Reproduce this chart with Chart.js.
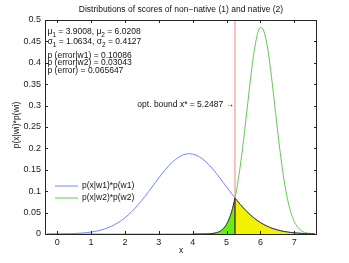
<!DOCTYPE html>
<html>
<head>
<meta charset="utf-8">
<script src="https://cdn.jsdelivr.net/npm/chart.js@4/dist/chart.umd.min.js"></script>
<style>
html,body{margin:0;padding:0;background:#fff;}
canvas{display:block;}
</style>
</head>
<body>
<canvas id="c" width="349" height="263"></canvas>
<script>
// ---- data ----
const xs = [-0.3,-0.2,-0.1,
  0.0,0.1,0.2,0.3,0.4,0.5,0.6,0.7,0.8,0.9,
  1.0,1.1,1.2,1.3,1.4,1.5,1.6,1.7,1.8,1.9,
  2.0,2.1,2.2,2.3,2.4,2.5,2.6,2.7,2.8,2.9,
  3.0,3.1,3.2,3.3,3.4,3.5,3.6,3.7,3.8,3.9,
  4.0,4.1,4.2,4.3,4.4,4.5,4.6,4.7,4.8,4.9,
  5.0,5.1,5.2,5.3,5.4,5.5,5.6,5.7,5.8,5.9,
  6.0,6.1,6.2,6.3,6.4,6.5,6.6,6.7,6.8,6.9,
  7.0,7.1,7.2,7.3,7.4,7.5,7.6];
const nonNative = [0.0001,0.0001,0.0002,
  0.0002,0.0003,0.0004,0.0006,0.0008,0.0011,0.0015,0.0020,0.0027,0.0035,
  0.0045,0.0058,0.0075,0.0094,0.0118,0.0147,0.0181,0.0220,0.0267,0.0320,
  0.0380,0.0447,0.0522,0.0604,0.0693,0.0788,0.0888,0.0991,0.1098,0.1205,
  0.1310,0.1413,0.1510,0.1599,0.1679,0.1747,0.1802,0.1843,0.1867,0.1876,
  0.1868,0.1843,0.1803,0.1748,0.1680,0.1600,0.1511,0.1414,0.1312,0.1206,
  0.1099,0.0993,0.0889,0.0789,0.0694,0.0605,0.0523,0.0448,0.0381,0.0320,
  0.0267,0.0221,0.0181,0.0147,0.0119,0.0095,0.0075,0.0059,0.0046,0.0035,
  0.0027,0.0020,0.0015,0.0011,0.0008,0.0006,0.0004];
const native = [0,0,0,
  0,0,0,0,0,0,0,0,0,0,
  0,0,0,0,0,0,0,0,0,0,
  0,0,0,0,0,0,0,0,0,0,
  0,0,0,0,0,0,0,0,0,0,
  0,0,0,0.0001,0.0002,0.0005,0.0013,0.0029,0.0061,0.0121,
  0.0227,0.0401,0.0669,0.1052,0.1559,0.2180,0.2874,0.3573,0.4189,0.4631,
  0.4827,0.4745,0.4398,0.3845,0.3169,0.2463,0.1805,0.1248,0.0813,0.0500,
  0.0290,0.0158,0.0082,0.0040,0.0018,0.0008,0.0003];
const xStar = 5.2487;
const yStar = 0.0840;
const fillStart = 4.0;
const xTicks = [0,1,2,3,4,5,6,7];
const yTicks = [0,0.05,0.1,0.15,0.2,0.25,0.3,0.35,0.4,0.45,0.5];
const seriesNames = ['p(x|w1)*p(w1)','p(x|w2)*p(w2)'];
const titleText = 'Distributions of scores of non\u2212native (1) and native (2)';
const statLines = [
  [['\u03bc',0],['1',1],[' = 3.9008, \u03bc',0],['2',1],[' = 6.0208',0]],
  [['\u03c3',0],['1',1],[' = 1.0634, \u03c3',0],['2',1],[' = 0.4127',0]],
  [['p (error|w1) = 0.10086',0]],
  [['p (error|w2) = 0.03043',0]],
  [['p (error) = 0.065647',0]]
];
const boundText = 'opt. bound x* = 5.2487 \u2192';

// ---- build point sets ----
const pts = (ys) => xs.map((x,i)=>({x:x,y:ys[i]}));
const greenFillPts = xs.map((x,i)=>({x:x,y:native[i]})).filter(p=>p.x>=fillStart-1e-9 && p.x<xStar);
greenFillPts.push({x:xStar,y:yStar});
const yellowFillPts = [{x:xStar,y:yStar}].concat(xs.map((x,i)=>({x:x,y:nonNative[i]})).filter(p=>p.x>xStar));

const FONT = '"Liberation Sans", Arial, Helvetica, sans-serif';
const BLUE = '#7282ff', GREEN = '#62c952';

const deco = {
  id:'deco',
  afterDatasetsDraw(chart){
    const {ctx, chartArea:a, scales:{x,y}} = chart;
    ctx.save();
    ctx.strokeStyle = '#262626';
    ctx.lineWidth = 1;
    ctx.strokeRect(Math.round(a.left)+0.5, Math.round(a.top)+0.5, Math.round(a.right-a.left)-1, Math.round(a.bottom-a.top));
    ctx.beginPath();
    const tl = 3;
    xTicks.forEach(v=>{
      const px = Math.round(x.getPixelForValue(v))+0.5;
      ctx.moveTo(px, a.bottom); ctx.lineTo(px, a.bottom-tl);
      ctx.moveTo(px, a.top); ctx.lineTo(px, a.top+tl);
    });
    yTicks.forEach(v=>{
      const py = Math.round(y.getPixelForValue(v))+0.5;
      ctx.moveTo(a.left, py); ctx.lineTo(a.left+tl, py);
      ctx.moveTo(a.right, py); ctx.lineTo(a.right-tl, py);
    });
    ctx.stroke();
    ctx.restore();
  },
  afterDraw(chart){
    const {ctx, chartArea:a, scales:{x,y}} = chart;
    ctx.save();
    ctx.fillStyle = '#111';
    ctx.textBaseline = 'middle';
    // title
    ctx.font = '8.5px ' + FONT;
    ctx.textAlign = 'center';
    ctx.fillText(titleText, (a.left+a.right)/2, 10);
    // axis titles
    ctx.fillText('x', (a.left+a.right)/2, 251);
    ctx.save();
    ctx.translate(17, 125);
    ctx.rotate(-Math.PI/2);
    ctx.fillText('p(x|wi)*p(wi)', 0, 0);
    ctx.restore();
    // stats
    ctx.textAlign = 'left';
    const ys0 = [32, 42, 55.5, 63, 70.5];
    statLines.forEach((parts, k)=>{
      let cx = 47.5;
      parts.forEach(([t,sub])=>{
        ctx.font = (sub ? '6.5px ' : '8.5px ') + FONT;
        ctx.fillText(t, cx, ys0[k] + (sub?3:0));
        cx += ctx.measureText(t).width;
      });
    });
    // bound annotation
    ctx.font = '8.5px ' + FONT;
    ctx.textAlign = 'right';
    ctx.fillText(boundText, x.getPixelForValue(xStar)-1, 105);
    // legend
    ctx.textAlign = 'left';
    [[BLUE, 185.5],[GREEN, 197.5]].forEach(([c,yy],k)=>{
      ctx.strokeStyle = c; ctx.lineWidth = 1;
      ctx.beginPath(); ctx.moveTo(55, yy+0.5); ctx.lineTo(78, yy+0.5); ctx.stroke();
      ctx.fillStyle = '#111';
      ctx.fillText(seriesNames[k], 82, yy);
    });
    ctx.restore();
  }
};

new Chart(document.getElementById('c'), {
  type:'line',
  data:{
    datasets:[
      {label:'boundary', data:[{x:xStar,y:0},{x:xStar,y:yStar}], borderColor:'#111', borderWidth:1, pointRadius:0, fill:false, order:0},
      {label:'opt. bound', data:[{x:xStar,y:0},{x:xStar,y:0.5}], borderColor:'#ff8080', borderWidth:1, pointRadius:0, fill:false, order:1},
      {label:'error w2', data:greenFillPts, borderColor:'#333', backgroundColor:'#66ee10', borderWidth:1, pointRadius:0, fill:'origin', cubicInterpolationMode:'monotone', order:2},
      {label:'error w1', data:yellowFillPts, borderColor:'#333', backgroundColor:'#f0f200', borderWidth:1, pointRadius:0, fill:'origin', cubicInterpolationMode:'monotone', order:3},
      {label:seriesNames[0], data:pts(nonNative), borderColor:BLUE, borderWidth:1, pointRadius:0, fill:false, cubicInterpolationMode:'monotone', order:4},
      {label:seriesNames[1], data:pts(native), borderColor:GREEN, borderWidth:1, pointRadius:0, fill:false, cubicInterpolationMode:'monotone', order:5}
    ]
  },
  options:{
    responsive:false,
    animation:false,
    devicePixelRatio:1,
    layout:{padding:{top:20,right:32,left:0,bottom:0}},
    plugins:{legend:{display:false}, tooltip:{enabled:false}, title:{display:false}},
    scales:{
      x:{type:'linear', min:-0.36, max:7.67,
         afterFit:(s)=>{s.height=29;},
         afterBuildTicks:(s)=>{s.ticks = xTicks.map(v=>({value:v}));},
         grid:{display:false, drawTicks:false}, border:{display:false},
         ticks:{padding:3, color:'#222', font:{family:FONT,size:9}, callback:(v)=>String(v)}},
      y:{type:'linear', min:0, max:0.5,
         afterFit:(s)=>{s.width=45;},
         afterBuildTicks:(s)=>{s.ticks = yTicks.map(v=>({value:v}));},
         grid:{display:false, drawTicks:false}, border:{display:false},
         ticks:{padding:4, color:'#222', font:{family:FONT,size:9}, callback:(v)=>String(+v.toFixed(2))}}
    }
  },
  plugins:[deco]
});
</script>
</body>
</html>
